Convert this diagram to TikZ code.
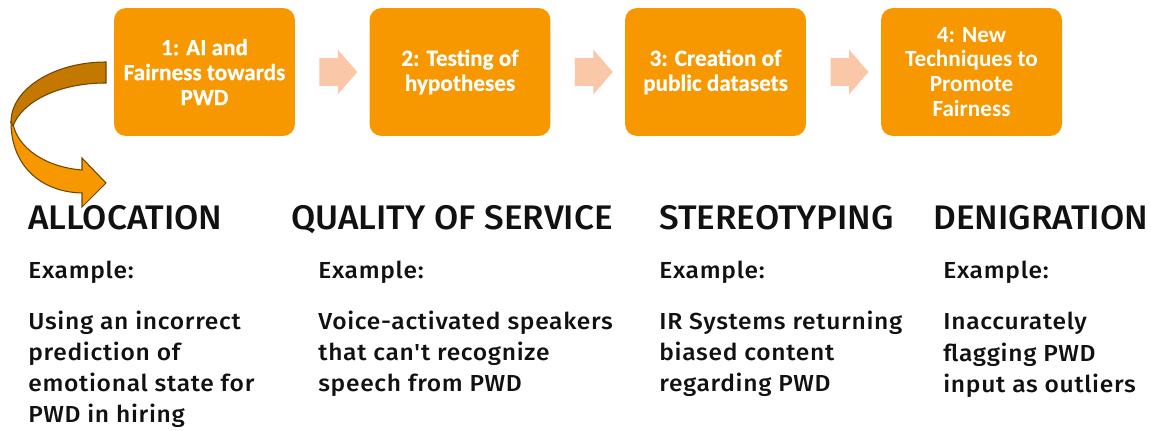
\documentclass[tikz,border=0pt]{standalone}
\usepackage{fontspec}
\setmainfont{Fira Sans}[UprightFont=* Medium]
\newfontfamily\headfont{Fira Sans}[UprightFont=* Medium, FakeStretch=1.03]
\newfontfamily\bodyfont{Fira Sans}[UprightFont=* Medium, FakeStretch=1.06, LetterSpace=3]
\newfontfamily\stepfont{Carlito}[UprightFont=* Bold, FakeBold=0.5]
\newfontfamily\stepfontwide{Carlito}[UprightFont=* Bold]
\usetikzlibrary{shapes.arrows,calc}
\definecolor{stepfill}{RGB}{247,152,0}
\definecolor{flowarrow}{RGB}{250,200,168}
\definecolor{bendtop}{RGB}{196,120,0}
\definecolor{bendline}{RGB}{110,70,0}
\definecolor{ink}{RGB}{17,17,17}

\begin{document}
\begin{tikzpicture}[x=0.02cm,y=-0.02cm,
  stepbox/.style={fill=stepfill, rounded corners=0.24cm, minimum width=3.62cm,
    minimum height=2.56cm, inner sep=0pt, text=white, align=center,
    font=\stepfont\fontsize{13.2}{14.2}\selectfont},
  flow/.style={single arrow, fill=flowarrow, draw=none, minimum height=0.76cm,
    inner xsep=0pt, inner ysep=0.27cm, single arrow head extend=0.17cm,
    single arrow tip angle=98},
  header/.style={anchor=base west, inner sep=0pt, text=ink,
    font=\headfont\fontsize{19.4}{23}\selectfont},
  example/.style={anchor=base west, inner sep=0pt, text=ink,
    font=\bodyfont\fontsize{13.2}{17.75}\selectfont},
  curlband/.style={draw=bendline, line width=0.6pt, line join=miter},
]
\useasboundingbox (0,0) rectangle (1151,431);

% process steps
\node[stepbox] (b1) at (204.5,72) {1: AI and\\Fairness towards\\PWD};
\node[stepbox] (b2) at (460,72) {2: Testing of\\hypotheses};
\node[stepbox] (b3) at (715.5,72) {3: Creation of\\public datasets};
\node[stepbox, font=\stepfontwide\fontsize{13.2}{14.2}\selectfont]
  (b4) at (971.5,72) {4: New\\Techniques to\\Promote\\Fairness};

% block arrows between the steps
\node[flow] (a1) at ($(b1.east)!0.5!(b2.west)$) {};
\node[flow] (a2) at ($(b2.east)!0.5!(b3.west)$) {};
\node[flow] (a3) at ($(b3.east)!0.5!(b4.west)$) {};

% curved arrow leading down to the harm categories
\filldraw[curlband, fill=stepfill]
  (13,124) .. controls (18,148) and (45,167) .. (82,170) -- (82,158)
  -- (106,183) -- (82,207) -- (82,193)
  .. controls (40,192) and (11,165) .. (11,122) -- cycle;
\filldraw[curlband, fill=bendtop]
  (106,62) .. controls (54,62) and (11,89) .. (11,122) -- (13,126)
  .. controls (22,102) and (58,83) .. (106,83) -- cycle;

% harm categories
\node[header] (h1) at (28,229.5) {ALLOCATION};
\node[header] (h2) at (291,229.5) {QUALITY OF SERVICE};
\node[header] (h3) at (659,229.5) {STEREOTYPING};
\node[header] (h4) at (933,229.5) {DENIGRATION};

\node[example] (e1) at (28,279) {Example:};
\node[example] (e2) at (318,279) {Example:};
\node[example] (e3) at (659,279) {Example:};
\node[example] (e4) at (943,279) {Example:};

\node[example] (t1) at (28,329.3) {\begin{tabular}[t]{@{}l@{}}Using an incorrect\\prediction of\\emotional state for\\PWD in hiring\end{tabular}};
\node[example] (t2) at (318,329.3) {\begin{tabular}[t]{@{}l@{}}Voice-activated speakers\\that can't recognize\\speech from PWD\end{tabular}};
\node[example] (t3) at (659,329.3) {\begin{tabular}[t]{@{}l@{}}IR Systems returning\\biased content\\regarding PWD\end{tabular}};
\node[example] (t4) at (943,330) {\begin{tabular}[t]{@{}l@{}}Inaccurately\\flagging PWD\\input as outliers\end{tabular}};
\end{tikzpicture}
\end{document}
